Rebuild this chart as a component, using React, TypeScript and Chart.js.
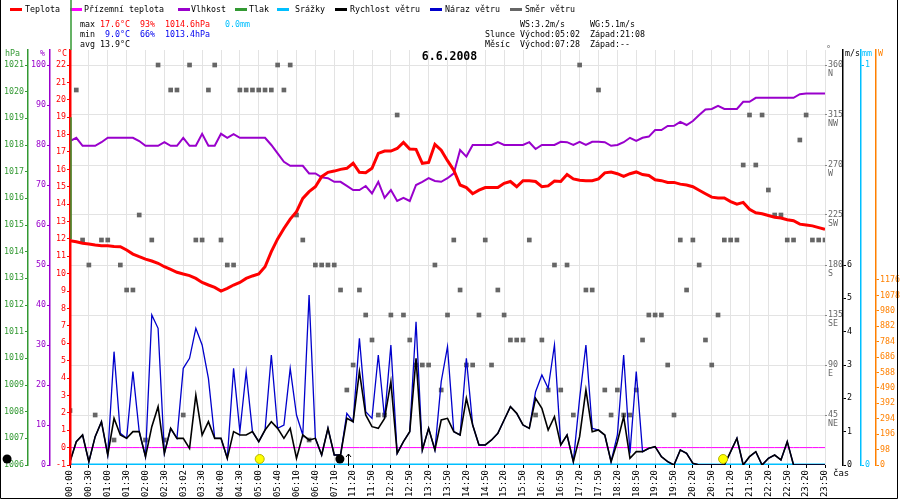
import { useEffect, useRef } from "react";
import { Chart, registerables } from "chart.js";

Chart.register(...registerables);

const MONO = "'DejaVu Sans Mono', monospace";

// x tick labels, one every 3 samples (10 min data)
const timeLabels = [
  "00:00", "00:30", "01:00", "01:30", "02:00", "02:30", "03:02", "03:30", "04:00", "04:30",
  "05:00", "05:40", "06:10", "06:40", "07:10", "11:20", "11:50", "12:20", "12:50", "13:20",
  "13:50", "14:20", "14:50", "15:20", "15:50", "16:20", "16:50", "17:20", "17:50", "18:20",
  "18:50", "19:20", "19:50", "20:20", "20:50", "21:20", "21:50", "22:20", "22:50", "23:20",
  "23:50",
];
const samplesPerLabel = 3;

const temperature = [
  11.9, 11.84, 11.75, 11.71, 11.65, 11.61, 11.6, 11.57, 11.55, 11.36,
  11.13, 10.98, 10.84, 10.73, 10.6, 10.4, 10.25, 10.08, 9.98, 9.89,
  9.73, 9.5, 9.35, 9.21, 9.0, 9.16, 9.35, 9.5, 9.73, 9.87,
  9.98, 10.4, 11.27, 12.0, 12.6, 13.14, 13.57, 14.33, 14.72, 15.0,
  15.58, 15.83, 15.9, 16.0, 16.06, 16.35, 15.83, 15.8, 16.06, 16.92,
  17.05, 17.05, 17.2, 17.55, 17.17, 17.15, 16.35, 16.4, 17.44, 17.1,
  16.5, 15.95, 15.1, 14.95, 14.6, 14.8, 14.95, 14.95, 14.95, 15.2,
  15.3, 15.0, 15.35, 15.35, 15.3, 15.0, 15.05, 15.33, 15.3, 15.7,
  15.45, 15.37, 15.35, 15.35, 15.45, 15.8, 15.85, 15.75, 15.6, 15.75,
  15.85, 15.7, 15.65, 15.4, 15.35, 15.25, 15.25, 15.15, 15.1, 15.0,
  14.8, 14.6, 14.4, 14.35, 14.35, 14.15, 14.0, 14.1, 13.7, 13.5,
  13.45, 13.35, 13.25, 13.2, 13.1, 13.05, 12.85, 12.8, 12.75, 12.65, 12.55,
];

const groundTemp = [
  0, 0, 0, 0, 0, 0, 0, 0, 0, 0, 0, 0, 0, 0, 0, 0, 0, 0, 0, 0,
  0, 0, 0, 0, 0, 0, 0, 0, 0, 0, 0, 0, 0, 0, 0, 0, 0, 0, 0, 0,
  0, 0, 0, 0, 0, 0, 0, 0, 0, 0, 0, 0, 0, 0, 0, 0, 0, 0, 0, 0,
  0, 0, 0, 0, 0, 0, 0, 0, 0, 0, 0, 0, 0, 0, 0, 0, 0, 0, 0, 0,
  0, 0, 0, 0, 0, 0, 0, 0, 0, 0, 0, 0, 0, 0, 0, 0, 0, 0, 0, 0,
  0, 0, 0, 0, 0, 0, 0, 0, 0, 0, 0, 0, 0, 0, 0, 0, 0, 0, 0, 0, 0,
];

const humidity = [
  81.0, 81.8, 79.8, 79.8, 79.8, 80.7, 81.8, 81.8, 81.8, 81.8,
  81.8, 81.0, 79.8, 79.8, 79.8, 80.7, 79.8, 79.8, 81.8, 79.8,
  79.8, 82.8, 79.8, 79.8, 82.8, 81.8, 82.7, 81.8, 81.8, 81.8,
  81.8, 81.8, 80.0, 77.9, 75.8, 74.8, 74.8, 74.8, 72.9, 72.9,
  71.9, 71.7, 70.8, 70.8, 69.8, 68.75, 68.75, 69.75, 67.9, 70.8,
  66.8, 68.75, 66.0, 66.8, 66.0, 70.0, 70.8, 71.7, 71.0, 70.8,
  71.7, 72.9, 78.75, 77.1, 80.0, 80.0, 80.0, 80.0, 80.7, 80.0,
  80.0, 80.0, 80.0, 80.7, 79.0, 80.0, 80.0, 80.0, 80.8, 80.7,
  80.0, 80.8, 80.0, 80.8, 80.8, 80.7, 79.8, 80.0, 80.7, 81.8,
  81.0, 81.8, 82.1, 83.75, 83.75, 84.75, 84.8, 85.8, 85.0, 86.0,
  87.5, 88.9, 89.0, 89.8, 89.0, 89.0, 89.0, 90.8, 90.8, 91.8,
  91.8, 91.8, 91.8, 91.8, 91.8, 91.8, 92.7, 92.9, 92.9, 92.9, 92.9,
];

const rain = [
  0, 0, 0, 0, 0, 0, 0, 0, 0, 0, 0, 0, 0, 0, 0, 0, 0, 0, 0, 0,
  0, 0, 0, 0, 0, 0, 0, 0, 0, 0, 0, 0, 0, 0, 0, 0, 0, 0, 0, 0,
  0, 0, 0, 0, 0, 0, 0, 0, 0, 0, 0, 0, 0, 0, 0, 0, 0, 0, 0, 0,
  0, 0, 0, 0, 0, 0, 0, 0, 0, 0, 0, 0, 0, 0, 0, 0, 0, 0, 0, 0,
  0, 0, 0, 0, 0, 0, 0, 0, 0, 0, 0, 0, 0, 0, 0, 0, 0, 0, 0, 0,
  0, 0, 0, 0, 0, 0, 0, 0, 0, 0, 0, 0, 0, 0, 0, 0, 0, 0, 0, 0, 0,
];

const windSpeed = [
  0.1, 0.7, 0.9, 0.1, 0.85, 1.3, 0.3, 1.4, 0.9, 0.8,
  1.0, 1.0, 0.25, 1.15, 1.75, 0.35, 1.1, 0.8, 0.8, 0.5,
  2.1, 0.9, 1.3, 0.8, 0.8, 0.2, 1.0, 0.9, 0.9, 1.0,
  0.7, 1.05, 1.3, 1.1, 0.8, 1.1, 0.2, 0.9, 0.75, 0.8,
  0.3, 1.1, 0.3, 0.3, 1.4, 1.3, 2.8, 1.5, 1.15, 1.1,
  1.4, 2.5, 0.35, 0.7, 1.0, 3.2, 0.45, 1.1, 0.45, 1.35,
  1.4, 1.0, 0.9, 2.0, 1.2, 0.6, 0.6, 0.75, 0.95, 1.35,
  1.75, 1.55, 1.2, 1.1, 2.0, 1.7, 1.05, 1.45, 0.6, 0.9,
  0.1, 0.85, 2.25, 1.0, 1.05, 0.9, 0.1, 0.7, 1.45, 0.2,
  0.4, 0.4, 0.5, 0.55, 0.25, 0.1, 0, 0.45, 0.35, 0.05,
  0, 0, 0, 0, 0, 0.4, 0.8, 0, 0.25, 0.4,
  0, 0.2, 0.3, 0.15, 0.7, 0, 0, 0, 0, 0, 0,
];

const windGust = [
  0.1, 0.7, 0.9, 0.1, 0.85, 1.3, 0.3, 3.4, 0.95, 0.8,
  2.8, 1.0, 0.25, 4.5, 4.1, 0.35, 1.1, 0.8, 2.9, 3.2,
  4.1, 3.6, 2.6, 0.8, 0.8, 0.2, 2.9, 1.0, 2.8, 1.0,
  0.7, 1.05, 3.3, 1.1, 1.2, 2.9, 1.5, 0.9, 5.1, 0.8,
  0.3, 1.1, 0.3, 0.3, 1.55, 1.3, 3.8, 1.6, 1.4, 3.3,
  1.4, 3.6, 0.35, 0.7, 1.0, 4.3, 0.45, 1.1, 0.45, 2.5,
  3.55, 1.0, 0.9, 3.2, 1.2, 0.6, 0.6, 0.75, 0.95, 1.35,
  1.75, 1.55, 1.2, 1.1, 2.2, 2.7, 2.3, 3.6, 0.6, 0.9,
  0.1, 2.0, 3.6, 1.1, 1.05, 0.9, 0.1, 0.9, 3.3, 0.35,
  2.8, 0.4, 0.5, 0.55, 0.25, 0.1, 0, 0.45, 0.35, 0.05,
  0, 0, 0, 0, 0, 0.4, 0.8, 0, 0.25, 0.4,
  0, 0.2, 0.3, 0.15, 0.7, 0, 0, 0, 0, 0, 0,
];

const windDir = [
  49, 337.5, 202.5, 180, 45, 202.5, 202.5, 22.5, 180, 157.5,
  157.5, 225, 22.5, 202.5, 360, 22.5, 337.5, 337.5, 45, 360,
  202.5, 202.5, 337.5, 360, 202.5, 180, 180, 337.5, 337.5, 337.5,
  337.5, 337.5, 337.5, 360, 337.5, 360, 225, 202.5, 22.5, 180,
  180, 180, 180, 157.5, 67.5, 90, 157.5, 135, 112.5, 45,
  45, 135, 315, 135, 112.5, 90, 90, 90, 180, 67.5,
  135, 202.5, 157.5, 90, 90, 135, 202.5, 90, 157.5, 135,
  112.5, 112.5, 112.5, 202.5, 45, 112.5, 67.5, 180, 67.5, 180,
  45, 360, 157.5, 157.5, 337.5, 67.5, 45, 67.5, 45, 45,
  67.5, 112.5, 135, 135, 135, 90, 45, 202.5, 157.5, 202.5,
  180, 112.5, 90, 135, 202.5, 202.5, 202.5, 270, 315, 270,
  315, 247.5, 225, 225, 202.5, 202.5, 292.5, 315, 202.5, 202.5, 202.5,
];

// sun / moon events, in sample units on the time axis
const sunEvents = [30.15, 103.8];
const moonEvents = [-10, 42.9];
const moonArrow = [44.2];

// axis ticks
const hpaTicks = [1006, 1007, 1008, 1009, 1010, 1011, 1012, 1013, 1014, 1015, 1016, 1017, 1018, 1019, 1020, 1021];
const humTicks = [0, 10, 20, 30, 40, 50, 60, 70, 80, 90, 100];
const tempTicks = [-1, 0, 1, 2, 3, 4, 5, 6, 7, 8, 9, 10, 11, 12, 13, 14, 15, 16, 17, 18, 19, 20, 21, 22];
const dirTicks = [45, 90, 135, 180, 225, 270, 315, 360];
const dirNames = ["NE", "E", "SE", "S", "SW", "W", "NW", "N"];
const windTicks = [0, 1, 2, 3, 4, 5, 6];
const rainTicks = [0, 1];
const powerTicks = [0, 98, 196, 294, 392, 490, 588, 686, 784, 882, 980, 1078, 1176];

const legendItems = [
  { label: "Teplota", color: "#ff0000", lineX: 10, textX: 25 },
  { label: "Přízemní teplota", color: "#ff00ff", lineX: 70, textX: 84 },
  { label: "Vlhkost", color: "#9900cc", lineX: 178, textX: 191 },
  { label: "Tlak", color: "#339933", lineX: 235, textX: 249 },
  { label: "Srážky", color: "#00bfff", lineX: 277, textX: 295 },
  { label: "Rychlost větru", color: "#000000", lineX: 335, textX: 350 },
  { label: "Náraz větru", color: "#0000cc", lineX: 430, textX: 445 },
  { label: "Směr větru", color: "#666666", lineX: 510, textX: 525 },
];

const infoTexts = [
  { text: "max", x: 80, y: 24.5, color: "#000000" },
  { text: "17.6°C", x: 100, y: 24.5, color: "#ff0000" },
  { text: "93%", x: 140, y: 24.5, color: "#ff0000" },
  { text: "1014.6hPa", x: 165, y: 24.5, color: "#ff0000" },
  { text: "0.0mm", x: 225, y: 24.5, color: "#00bfff" },
  { text: "min", x: 80, y: 34.5, color: "#000000" },
  { text: "9.0°C", x: 105, y: 34.5, color: "#0000ee" },
  { text: "66%", x: 140, y: 34.5, color: "#0000ee" },
  { text: "1013.4hPa", x: 165, y: 34.5, color: "#0000ee" },
  { text: "avg", x: 80, y: 44.5, color: "#000000" },
  { text: "13.9°C", x: 100, y: 44.5, color: "#000000" },
  { text: "WS:3.2m/s", x: 520, y: 24.5, color: "#000000" },
  { text: "WG:5.1m/s", x: 590, y: 24.5, color: "#000000" },
  { text: "Slunce", x: 485, y: 34.5, color: "#000000" },
  { text: "Východ:05:02", x: 520, y: 34.5, color: "#000000" },
  { text: "Západ:21:08", x: 590, y: 34.5, color: "#000000" },
  { text: "Měsíc", x: 485, y: 44.5, color: "#000000" },
  { text: "Východ:07:28", x: 520, y: 44.5, color: "#000000" },
  { text: "Západ:--", x: 590, y: 44.5, color: "#000000" },
];

const unitTexts = [
  { text: "hPa", x: 5, y: 54, color: "#339933" },
  { text: "%", x: 40, y: 54, color: "#9900cc" },
  { text: "°C", x: 57, y: 54, color: "#ff0000" },
  { text: "°", x: 826, y: 50, color: "#666666" },
  { text: "m/s", x: 845, y: 54, color: "#000000" },
  { text: "mm", x: 862, y: 54, color: "#00bfff" },
  { text: "W", x: 878, y: 54, color: "#ff8000" },
];

const markerLevel = 0.18; // m/s, where sun/moon symbols sit

const pts = (arr: number[]) => arr.map((y, x) => ({ x, y }));

function yAxis(o: {
  position: "left" | "right";
  weight: number;
  width: number;
  min: number;
  max: number;
  values: number[];
  color: string;
  border?: boolean;
}) {
  return {
    type: "linear" as const,
    position: o.position,
    weight: o.weight,
    min: o.min,
    max: o.max,
    afterFit: (s: any) => {
      s.width = o.width;
    },
    afterBuildTicks: (s: any) => {
      s.ticks = o.values.map((value) => ({ value }));
    },
    ticks: {
      color: o.color,
      font: { family: MONO, size: 8.3 },
      padding: 1,
      autoSkip: false,
      callback: (v: any) => String(v),
    },
    grid: { drawOnChartArea: false, color: o.color, tickColor: o.color, tickLength: 3 },
    border: { display: o.border !== false, color: o.color, width: 1.5 },
  };
}

const decor = {
  id: "decor",
  afterDraw(chart: any) {
    const { ctx, chartArea, scales } = chart;
    ctx.save();
    ctx.font = `8.3px ${MONO}`;
    ctx.textBaseline = "middle";
    ctx.textAlign = "left";

    // legend row
    legendItems.forEach((it) => {
      ctx.strokeStyle = it.color;
      ctx.lineWidth = 3;
      ctx.beginPath();
      ctx.moveTo(it.lineX, 9.5);
      ctx.lineTo(it.lineX + 12, 9.5);
      ctx.stroke();
      ctx.fillStyle = "#000";
      ctx.fillText(it.label, it.textX, 9.5);
    });

    infoTexts.forEach((t) => {
      ctx.fillStyle = t.color;
      ctx.fillText(t.text, t.x, t.y);
    });
    unitTexts.forEach((t) => {
      ctx.fillStyle = t.color;
      ctx.fillText(t.text, t.x, t.y);
    });

    ctx.fillStyle = "#000";
    ctx.font = `9px ${MONO}`;
    ctx.fillText("čas", 833, 474);

    ctx.font = `bold 11.5px ${MONO}`;
    ctx.textAlign = "center";
    ctx.fillText("6.6.2008", 449.5, 57);

    // temperature / pressure axis lines at the plot's left edge
    const lx = chartArea.left + 0.5;
    const yT = scales.yTemp;
    ctx.strokeStyle = "#ff0000";
    ctx.lineWidth = 2;
    ctx.beginPath();
    ctx.moveTo(lx, chartArea.top);
    ctx.lineTo(lx, chartArea.bottom);
    ctx.stroke();
    ctx.strokeStyle = "#339933";
    ctx.lineWidth = 1.5;
    ctx.beginPath();
    ctx.moveTo(lx + 0.5, 0);
    ctx.lineTo(lx + 0.5, chartArea.top);
    ctx.moveTo(lx + 0.5, yT.getPixelForValue(19));
    ctx.lineTo(lx + 0.5, yT.getPixelForValue(12));
    ctx.stroke();

    // moon symbols that fall left of the plot
    const xs = scales.x;
    const my = scales.yWind.getPixelForValue(markerLevel);
    ctx.fillStyle = "#000";
    moonEvents.forEach((v) => {
      const px = xs.getPixelForValue(v);
      if (px < chartArea.left) {
        ctx.beginPath();
        ctx.arc(px, my, 4.5, 0, Math.PI * 2);
        ctx.fill();
      }
    });

    // moon arrow
    ctx.strokeStyle = "#000";
    ctx.lineWidth = 1;
    moonArrow.forEach((v) => {
      const px = Math.round(xs.getPixelForValue(v)) + 0.5;
      ctx.beginPath();
      ctx.moveTo(px, chartArea.bottom + 1);
      ctx.lineTo(px, chartArea.bottom - 11);
      ctx.moveTo(px - 2.5, chartArea.bottom - 8);
      ctx.lineTo(px, chartArea.bottom - 11);
      ctx.lineTo(px + 2.5, chartArea.bottom - 8);
      ctx.stroke();
    });

    // frame
    ctx.strokeStyle = "#000";
    ctx.lineWidth = 1;
    ctx.beginPath();
    ctx.moveTo(0.5, 0);
    ctx.lineTo(0.5, 498.5);
    ctx.lineTo(897.5, 498.5);
    ctx.lineTo(897.5, 0);
    ctx.stroke();
    ctx.restore();
  },
};

export default function App() {
  const canvasRef = useRef<HTMLCanvasElement | null>(null);
  const chartRef = useRef<Chart | null>(null);

  useEffect(() => {
    if (!canvasRef.current) return;
    chartRef.current?.destroy();

    Chart.defaults.font.family = MONO;

    const lineBase = { pointRadius: 0, tension: 0, fill: false };

    chartRef.current = new Chart(canvasRef.current, {
      type: "line",
      data: {
        datasets: [
          {
            ...lineBase,
            label: "Teplota",
            data: pts(temperature),
            borderColor: "#ff0000",
            borderWidth: 3,
            yAxisID: "yTemp",
            order: 1,
          },
          {
            ...lineBase,
            label: "Přízemní teplota",
            data: pts(groundTemp),
            borderColor: "#ff00ff",
            borderWidth: 1,
            yAxisID: "yTemp",
            order: 5,
          },
          {
            ...lineBase,
            label: "Vlhkost",
            data: pts(humidity),
            borderColor: "#9900cc",
            borderWidth: 2,
            yAxisID: "yHum",
            order: 2,
          },
          {
            ...lineBase,
            label: "Srážky",
            data: pts(rain),
            borderColor: "#00bfff",
            borderWidth: 3,
            yAxisID: "yRain",
            order: 6,
          },
          {
            ...lineBase,
            label: "Rychlost větru",
            data: pts(windSpeed),
            borderColor: "#000000",
            borderWidth: 1.6,
            yAxisID: "yWind",
            order: 3,
          },
          {
            ...lineBase,
            label: "Náraz větru",
            data: pts(windGust),
            borderColor: "#0000cc",
            borderWidth: 1.3,
            yAxisID: "yWind",
            order: 4,
          },
          {
            label: "Směr větru",
            data: pts(windDir),
            showLine: false,
            pointStyle: "rect",
            pointRadius: 3.3,
            pointBorderWidth: 0,
            pointBackgroundColor: "#666666",
            yAxisID: "yDir",
            order: 7,
          },
          {
            label: "Slunce",
            data: sunEvents.map((x) => ({ x, y: markerLevel })),
            showLine: false,
            pointRadius: 4.5,
            pointBackgroundColor: "#ffff00",
            pointBorderColor: "#b4b400",
            pointBorderWidth: 1,
            yAxisID: "yWind",
            order: 0,
          },
          {
            label: "Měsíc",
            data: moonEvents.map((x) => ({ x, y: markerLevel })),
            showLine: false,
            pointRadius: 4.5,
            pointBackgroundColor: "#000000",
            pointBorderWidth: 0,
            yAxisID: "yWind",
            order: 0,
          },
        ] as any,
      },
      options: {
        responsive: false,
        devicePixelRatio: 1,
        animation: false,
        events: [],
        layout: { padding: { top: 50, left: 0, right: 0, bottom: 0 } },
        plugins: {
          legend: { display: false },
          tooltip: { enabled: false },
          title: { display: false },
        },
        scales: {
          x: {
            type: "linear",
            min: 0,
            max: (timeLabels.length - 1) * samplesPerLabel,
            afterFit: (s: any) => {
              s.height = 35;
            },
            afterBuildTicks: (s: any) => {
              s.ticks = timeLabels.map((_, k) => ({ value: k * samplesPerLabel }));
            },
            ticks: {
              autoSkip: false,
              minRotation: 90,
              maxRotation: 90,
              color: "#000",
              padding: 2,
              font: { family: MONO, size: 9 },
              callback: (v: any) => timeLabels[Math.round(Number(v) / samplesPerLabel)],
            },
            grid: { color: "#e3e3e3", tickColor: "#000", tickLength: 3 },
            border: { display: false },
          },
          yHpa: yAxis({ position: "left", weight: 3, width: 28, min: 1006, max: 1021.5625, values: hpaTicks, color: "#339933" }),
          yHum: yAxis({ position: "left", weight: 2, width: 22, min: 0, max: 103.75, values: humTicks, color: "#9900cc" }),
          yTemp: yAxis({ position: "left", weight: 1, width: 20, min: -1, max: 22.8625, values: tempTicks, color: "#ff0000" }),
          yDir: {
            ...yAxis({ position: "right", weight: 1, width: 18, min: 0, max: 373.5, values: dirTicks, color: "#666666", border: false }),
            ticks: {
              color: "#666666",
              font: { family: MONO, size: 8.3, lineHeight: 1.05 },
              padding: 1,
              autoSkip: false,
              labelOffset: 4.4,
              callback: (v: any) => [String(v), dirNames[dirTicks.indexOf(Number(v))]],
            },
            grid: { drawOnChartArea: true, color: "#e3e3e3", tickColor: "#888888", tickLength: 2 },
          },
          yWind: yAxis({ position: "right", weight: 2, width: 18, min: 0, max: 12.45, values: windTicks, color: "#000000" }),
          yRain: yAxis({ position: "right", weight: 3, width: 15, min: 0, max: 1.0375, values: rainTicks, color: "#00bfff" }),
          yPower: yAxis({ position: "right", weight: 4, width: 24, min: 0, max: 2638, values: powerTicks, color: "#ff8000" }),
        } as any,
      },
      plugins: [decor],
    });

    return () => {
      chartRef.current?.destroy();
      chartRef.current = null;
    };
  }, []);

  return (
    <div style={{ position: "fixed", left: 0, top: 0, width: 900, height: 500, background: "#fff" }}>
      <canvas ref={canvasRef} width={900} height={500} style={{ display: "block" }} />
    </div>
  );
}
